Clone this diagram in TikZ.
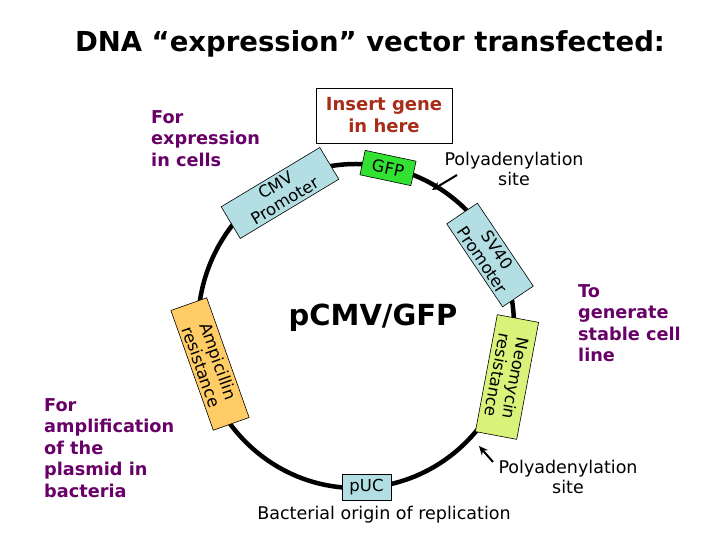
\documentclass[tikz,border=0pt]{standalone}
\usepackage{fontspec}
\setmainfont{DejaVu Sans}
\usetikzlibrary{arrows.meta}
\definecolor{purp}{RGB}{104,0,104}
\definecolor{lblue}{RGB}{178,222,228}
\definecolor{gfpgreen}{RGB}{51,225,51}
\definecolor{ampor}{RGB}{255,204,102}
\definecolor{neoyg}{RGB}{216,242,122}
\definecolor{insred}{RGB}{168,45,25}
\begin{document}
\begin{tikzpicture}[x=1pt,y=1pt,
  lbl/.style={text=purp, font=\bfseries\fontsize{17.7}{21.5}\selectfont, align=left, inner sep=0pt, anchor=north west},
  part/.style={draw=black, line width=0.6pt, font=\fontsize{16.5}{18}\selectfont, align=center, inner sep=0pt},
  note/.style={font=\fontsize{17.5}{20}\selectfont, align=center, inner sep=0pt},
  ptr/.style={line width=2pt, -{Stealth[length=9pt,width=8pt]}}]
\useasboundingbox (0,0) rectangle (720,540);
\fill[white] (0,0) rectangle (720,540);
% title
\node[font=\bfseries\fontsize{27.5}{30}\selectfont, inner sep=0pt] (title) at (370,496) {DNA “expression” vector transfected:};
% plasmid ring
\draw[line width=4.5pt] (356,214) ellipse [x radius=158, y radius=162];
\node[font=\bfseries\fontsize{29}{32}\selectfont, inner sep=0pt] (name) at (373,222) {pCMV/GFP};
% parts
\node[part, fill=lblue, rotate=31, minimum width=115, minimum height=37] (cmv) at (280,347) {CMV\\Promoter};
\node[part, fill=gfpgreen, rotate=-12, minimum width=52, minimum height=25] (gfp) at (388,372) {GFP};
\node[part, fill=lblue, rotate=-56, minimum width=100, minimum height=37] (sv40) at (490,285) {SV40\\Promoter};
\node[part, fill=neoyg, rotate=-100.6, minimum width=119, minimum height=42] (neo) at (507,163) {Neomycin\\resistance};
\node[part, fill=ampor, rotate=-70.5, minimum width=127, minimum height=38] (amp) at (210,176) {Ampicillin\\resistance};
\node[part, fill=lblue, minimum width=49, minimum height=26] (puc) at (366.5,53) {pUC};
% insert box
\node[draw=black, line width=0.6pt, fill=white, minimum width=136, minimum height=55, text=insred, font=\bfseries\fontsize{18}{22}\selectfont, align=center, inner sep=0pt] (ins) at (384,424.5) {Insert gene\\in here};
% labels
\node[lbl] (lexp) at (151,430) {For\\expression\\in cells};
\node[lbl] (lamp) at (44,142) {For\\amplification\\of the\\plasmid in\\bacteria};
\node[lbl] (lneo) at (578,256) {To\\generate\\stable cell\\line};
% polyadenylation sites
\node[note] (pa1) at (514,371.5) {Polyadenylation\\site};
\node[note] (pa2) at (568,63) {Polyadenylation\\site};
\coordinate (a1s) at (457,365);
\coordinate (a1e) at (432,350);
\coordinate (a2s) at (493,78);
\coordinate (a2e) at (479,94);
\draw[ptr] (a1s) -- (a1e);
\draw[ptr] (a2s) -- (a2e);
\node[note] (ori) at (384,25) {Bacterial origin of replication};
\end{tikzpicture}
\end{document}
